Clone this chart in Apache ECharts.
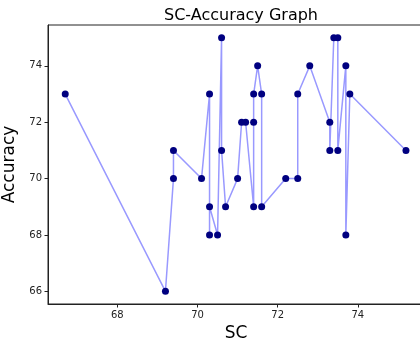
<!DOCTYPE html>
<html>
<head>
<meta charset="utf-8">
<script src="https://cdn.jsdelivr.net/npm/echarts@6/dist/echarts.min.js"></script>
<style>
  html, body { margin: 0; padding: 0; background: #fff; }
  #chart { width: 420px; height: 343px; }
</style>
</head>
<body>
<div id="chart"></div>
<script>
// SC values in plotting order
const scValues = [66.7, 69.2, 69.4, 69.4, 70.1, 70.3, 70.3, 70.3, 70.5, 70.6, 70.6, 70.7,
  71.0, 71.1, 71.2, 71.4, 71.4, 71.4, 71.5, 71.6, 71.6, 72.2, 72.5, 72.5, 72.8,
  73.3, 73.3, 73.4, 73.5, 73.5, 73.7, 73.7, 73.8, 75.2]
// Accuracy values, same order
const accValues = [73, 66, 70, 71, 70, 73, 68, 69, 68, 75, 71, 69,
  70, 72, 72, 69, 72, 73, 74, 73, 69, 70, 70, 73, 74,
  72, 71, 75, 75, 71, 74, 68, 73, 71]
const xTicks = [68, 70, 72, 74]
const yTicks = [66, 68, 70, 72, 74]

const font = 'DejaVu Sans'
const points = scValues.map((x, i) => [x, accValues[i]])

let myChart = echarts.init(document.getElementById('chart'))
myChart.setOption({
  animation: false,
  title: {
    text: 'SC-Accuracy Graph',
    left: 236,
    textAlign: 'center',
    top: 3,
    textStyle: { fontFamily: font, fontSize: 16, fontWeight: 'normal', color: '#000' }
  },
  grid: {
    left: 48,
    top: 25,
    width: 376,
    height: 279,
    containLabel: false,
    outerBoundsMode: 'none',
    show: true,
    borderColor: '#222',
    borderWidth: 1
  },
  xAxis: {
    type: 'value',
    min: 66.27,
    max: 75.65,
    name: 'SC',
    nameLocation: 'middle',
    nameGap: 20,
    nameTextStyle: { fontFamily: font, fontSize: 17, color: '#000' },
    axisLine: { show: true, lineStyle: { color: '#222', width: 1 } },
    axisTick: { show: true, length: 3.5, customValues: xTicks, lineStyle: { color: '#222' } },
    axisLabel: { customValues: xTicks, fontFamily: font, fontSize: 10, color: '#222', margin: 6 },
    splitLine: { show: false }
  },
  yAxis: {
    type: 'value',
    min: 65.55,
    max: 75.45,
    name: 'Accuracy',
    nameLocation: 'middle',
    nameGap: 25,
    nameTextStyle: { fontFamily: font, fontSize: 17, color: '#000' },
    axisLine: { show: true, lineStyle: { color: '#222', width: 1 } },
    axisTick: { show: true, length: 3.5, customValues: yTicks, lineStyle: { color: '#222' } },
    axisLabel: { customValues: yTicks, fontFamily: font, fontSize: 10, color: '#222', margin: 6 },
    splitLine: { show: false }
  },
  series: [
    {
      type: 'line',
      data: points,
      symbol: 'circle',
      symbolSize: 7,
      itemStyle: { color: '#000080', borderWidth: 0 },
      lineStyle: { color: '#9999ff', width: 1.5 }
    }
  ]
})
</script>
</body>
</html>
